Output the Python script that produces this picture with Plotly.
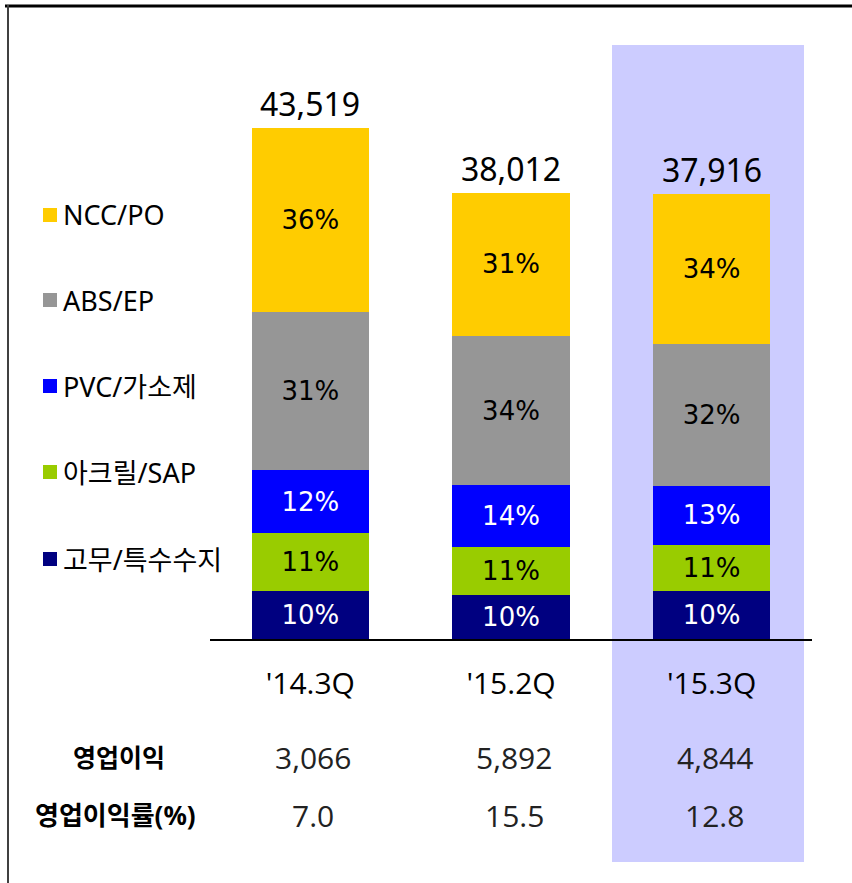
import plotly.graph_objects as go

# ---------------- data ----------------
quarters = ["'14.3Q", "'15.2Q", "'15.3Q"]
totals = [43519, 38012, 37916]

seg_names = ["고무/특수수지", "아크릴/SAP", "PVC/가소제", "ABS/EP", "NCC/PO"]
rubber = [4047, 3763, 4057]
acryl = [4961, 4067, 3943]
pvc = [5396, 5246, 5043]
abs_ep = [13447, 12734, 12057]
ncc = [15667, 12202, 12816]

rubber_pct = [10, 10, 10]
acryl_pct = [11, 11, 11]
pvc_pct = [12, 14, 13]
abs_pct = [31, 34, 32]
ncc_pct = [36, 31, 34]

op_profit = [3066, 5892, 4844]
op_margin = [7.0, 15.5, 12.8]
row_labels = ["영업이익", "영업이익률(%)"]

# ---------------- styles ----------------
colors = ["#000080", "#99CC00", "#0000FF", "#969696", "#FFCC00"]
text_colors = ["white", "black", "white", "black", "black"]
W, H = 852, 883
ML, MR, MT, MB = 210, 40, 0, 244
PW, PH = W - ML - MR, H - MT - MB


def px(x):
    return (x - ML) / PW


def py(y):
    return (H - MB - y) / PH


KFONT = "Noto Sans, Noto Sans CJK KR, sans-serif"
NFONT = "Open Sans, Noto Sans, sans-serif"

fig = go.Figure()
series = [rubber, acryl, pvc, abs_ep, ncc]
pcts = [rubber_pct, acryl_pct, pvc_pct, abs_pct, ncc_pct]
for name, vals, pc, col, tc in zip(seg_names, series, pcts, colors, text_colors):
    fig.add_trace(go.Bar(
        x=quarters, y=vals, name=name,
        marker=dict(color=col, line=dict(width=0)),
        text=[f"{p}%" for p in pc],
        textposition="inside", insidetextanchor="middle", textangle=0,
        constraintext="none",
        textfont=dict(family="DejaVu Sans, sans-serif", size=26, color=tc),
        width=0.585, showlegend=False, hoverinfo="skip",
    ))

annotations = []
# totals above bars
for q, t in zip(quarters, totals):
    annotations.append(dict(x=q, y=t, xref="x", yref="y", text=f"{t:,}",
                            showarrow=False, yanchor="bottom", yshift=1,
                            font=dict(family=KFONT, size=32, color="black")))

# custom legend
legend_y = [559, 472, 386, 300, 215]
shapes = []
for name, col, ly in zip(seg_names, colors, legend_y):
    shapes.append(dict(type="rect", xref="paper", yref="paper",
                       x0=px(43), x1=px(57), y0=py(ly + 7), y1=py(ly - 7),
                       fillcolor=col, line=dict(width=0)))
    annotations.append(dict(x=px(61), y=py(ly), xref="paper", yref="paper",
                            text=name, showarrow=False, xanchor="left",
                            yanchor="middle",
                            font=dict(family=KFONT, size=27, color="black")))

# table rows
row_y = [757, 815]
row_vals = [[f"{v:,}" for v in op_profit], [f"{v:.1f}" for v in op_margin]]
row_x = [119, 115]
row_size = [25, 26]
for lab, ry, rx, rs, vals in zip(row_labels, row_y, row_x, row_size, row_vals):
    annotations.append(dict(x=px(rx), y=py(ry), xref="paper", yref="paper",
                            text=f"<b>{lab}</b>", showarrow=False,
                            xanchor="center", yanchor="middle",
                            font=dict(family=KFONT, size=rs, color="black")))
    for q, v in zip(quarters, vals):
        annotations.append(dict(x=q, y=py(ry), xref="x", yref="paper",
                                text=v, showarrow=False, xanchor="center",
                                yanchor="middle", xshift=3,
                                font=dict(family=NFONT, size=30, color="#222222")))

# highlight column and frame lines
shapes.insert(0, dict(type="rect", xref="paper", yref="paper",
                      x0=px(612), x1=px(804), y0=py(862), y1=py(45),
                      fillcolor="#CCCCFF", line=dict(width=0), layer="below"))
shapes.append(dict(type="line", xref="paper", yref="paper",
                   x0=px(5), x1=px(852), y0=py(6), y1=py(6),
                   line=dict(color="black", width=3)))
shapes.append(dict(type="line", xref="paper", yref="paper",
                   x0=px(8), x1=px(8), y0=py(5), y1=py(883),
                   line=dict(color="#404040", width=2)))

fig.update_layout(
    width=W, height=H, margin=dict(l=ML, r=MR, t=MT, b=MB, pad=0),
    paper_bgcolor="white", plot_bgcolor="rgba(0,0,0,0)",
    barmode="stack", showlegend=False,
    shapes=shapes, annotations=annotations,
    xaxis=dict(type="category", range=[-0.5, 2.5], showline=True,
               linecolor="black", linewidth=2, showgrid=False, zeroline=False,
               ticks="", ticklabelstandoff=17,
               tickfont=dict(family=NFONT, size=30, color="black"),
               fixedrange=True),
    yaxis=dict(range=[0, PH / 0.01174], visible=False, showgrid=False,
               zeroline=False, fixedrange=True),
)

fig.write_html("out.html", config={"displayModeBar": False},
               post_script="document.body.style.margin='0';document.body.style.overflow='hidden';")
